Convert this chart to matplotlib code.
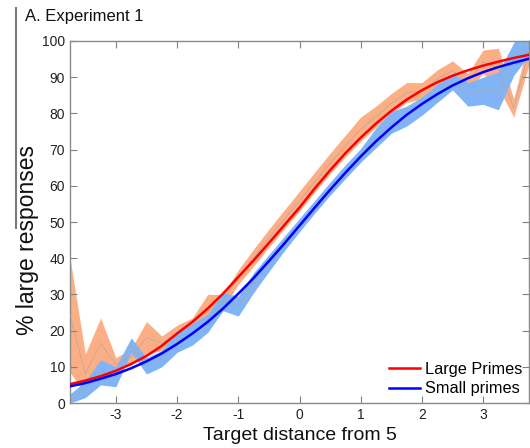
import matplotlib
matplotlib.use("Agg")
import matplotlib.pyplot as plt
from matplotlib.lines import Line2D
import numpy as np

plt.rcParams['font.family'] = ['Liberation Sans', 'DejaVu Sans']

# x positions (target distance from 5)
x = [-3.75, -3.5, -3.25, -3.0, -2.75, -2.5, -2.25, -2.0, -1.75, -1.5, -1.25,
     -1.0, -0.75, -0.5, -0.25, 0.0, 0.25, 0.5, 0.75, 1.0, 1.25, 1.5, 1.75,
     2.0, 2.25, 2.5, 2.75, 3.0, 3.25, 3.5, 3.75]

# Large primes band (lower / upper edge, % large responses)
large_lo = [8.5, 2.5, 9.5, 9.0, 10.5, 13.5, 14.5, 17.0, 19.0, 23.0, 26.5,
            32.8, 37.8, 43.0, 48.1, 53.0, 58.3, 63.3, 68.0, 72.3, 76.2, 80.0, 83.0,
            84.0, 87.0, 89.0, 86.5, 91.0, 87.0, 79.0, 93.5]
large_hi = [40.0, 13.5, 23.5, 12.5, 15.0, 22.5, 18.5, 21.5, 23.5, 30.0, 30.0,
            36.8, 42.5, 48.0, 53.3, 58.5, 63.8, 69.0, 74.0, 79.0, 82.0, 85.5, 88.5,
            88.5, 92.0, 94.5, 91.0, 97.5, 98.0, 84.0, 100.5]

# Small primes band
small_lo = [0.0, 1.5, 5.0, 4.5, 14.0, 8.0, 10.0, 14.0, 16.0, 19.5, 25.5,
            24.0, 30.5, 36.3, 42.0, 47.3, 52.5, 57.4, 62.0, 66.5, 70.5, 74.5, 76.5,
            79.5, 83.0, 86.5, 82.0, 82.5, 81.0, 90.5, 96.0]
small_hi = [2.5, 6.0, 12.0, 10.0, 18.0, 12.5, 14.5, 20.0, 22.0, 24.5, 30.5,
            29.5, 36.0, 41.0, 46.0, 51.0, 56.0, 61.0, 65.8, 70.3, 76.0, 80.5, 82.0,
            84.5, 88.0, 91.0, 88.5, 90.0, 91.5, 99.5, 106.0]

# Fitted curves
large_fit = [5.2, 6.2, 7.4, 8.9, 10.8, 13.0, 15.8, 19.2, 22.4, 26.1, 30.2,
             34.8, 39.4, 44.2, 49.1, 54.0, 59.3, 64.3, 69.0, 73.3, 77.2, 80.7, 83.8,
             86.4, 88.6, 90.4, 91.9, 93.2, 94.3, 95.3, 96.2]
small_fit = [4.6, 5.5, 6.7, 8.0, 9.6, 11.5, 13.7, 16.3, 19.2, 22.4, 26.1,
             30.2, 34.5, 39.2, 44.0, 49.0, 54.0, 58.9, 63.6, 68.1, 72.3, 76.1, 79.6,
             82.6, 85.3, 87.7, 89.7, 91.4, 92.8, 94.0, 95.1]

xticks = [-3, -2, -1, 0, 1, 2, 3]
yticks = [0, 10, 20, 30, 40, 50, 60, 70, 80, 90, 100]

W, H = 530, 448
fig = plt.figure(figsize=(W / 100, H / 100), dpi=100)
ax = fig.add_axes([70 / W, 1 - 403 / H, (529 - 70) / W, (403 - 41) / H])

orange = '#FCAF85'
lblue = '#80B4F7'
ax.fill_between(x, large_lo, large_hi, color=orange, lw=0, zorder=1)
ax.fill_between(x, small_lo, small_hi, color=lblue, lw=0, zorder=2)
lm = [(a + b) / 2 for a, b in zip(large_lo, large_hi)]
sm = [(a + b) / 2 for a, b in zip(small_lo, small_hi)]
ax.plot(x, lm, color='#a8a8a8', lw=0.45, zorder=3)
ax.plot(x, sm, color='#a8a8a8', lw=0.45, zorder=3)

ax.plot(x, large_fit, color='#FF0000', lw=1.8, zorder=4, label='Large Primes')
ax.plot(x, small_fit, color='#0000FF', lw=1.8, zorder=4, label='Small primes')

ax.set_xlim(-3.75, 3.75)
ax.set_ylim(0, 100)
ax.set_xticks(xticks)
ax.set_yticks(yticks)
ax.set_xticklabels(['%d' % t for t in xticks])
ax.tick_params(direction='in', length=5, top=True, right=True, labelsize=10,
               color='#808080', labelcolor='#222222', width=0.8)
for s in ax.spines.values():
    s.set_color('#8a8a8a')
    s.set_linewidth(1.0)

ax.set_xlabel('Target distance from 5', fontsize=14, color='#111111', labelpad=4)
ax.set_ylabel('% large responses', fontsize=16.5, color='#111111')
ax.yaxis.set_label_coords(-0.068, 0.45)

leg = ax.legend(loc='lower right', frameon=False, fontsize=11.7, handlelength=1.9,
                handletextpad=0.3, labelspacing=0.3, borderaxespad=0.0)

fig.text(25 / W, 1 - 16 / H, 'A. Experiment 1', ha='left', va='center',
         fontsize=12, color='#111111')
fig.add_artist(Line2D([16 / W, 16 / W], [1 - 8 / H, 1 - 228 / H],
                      transform=fig.transFigure, color='#7a7a7a', lw=1.5))

fig.savefig('out.png', dpi=100)
